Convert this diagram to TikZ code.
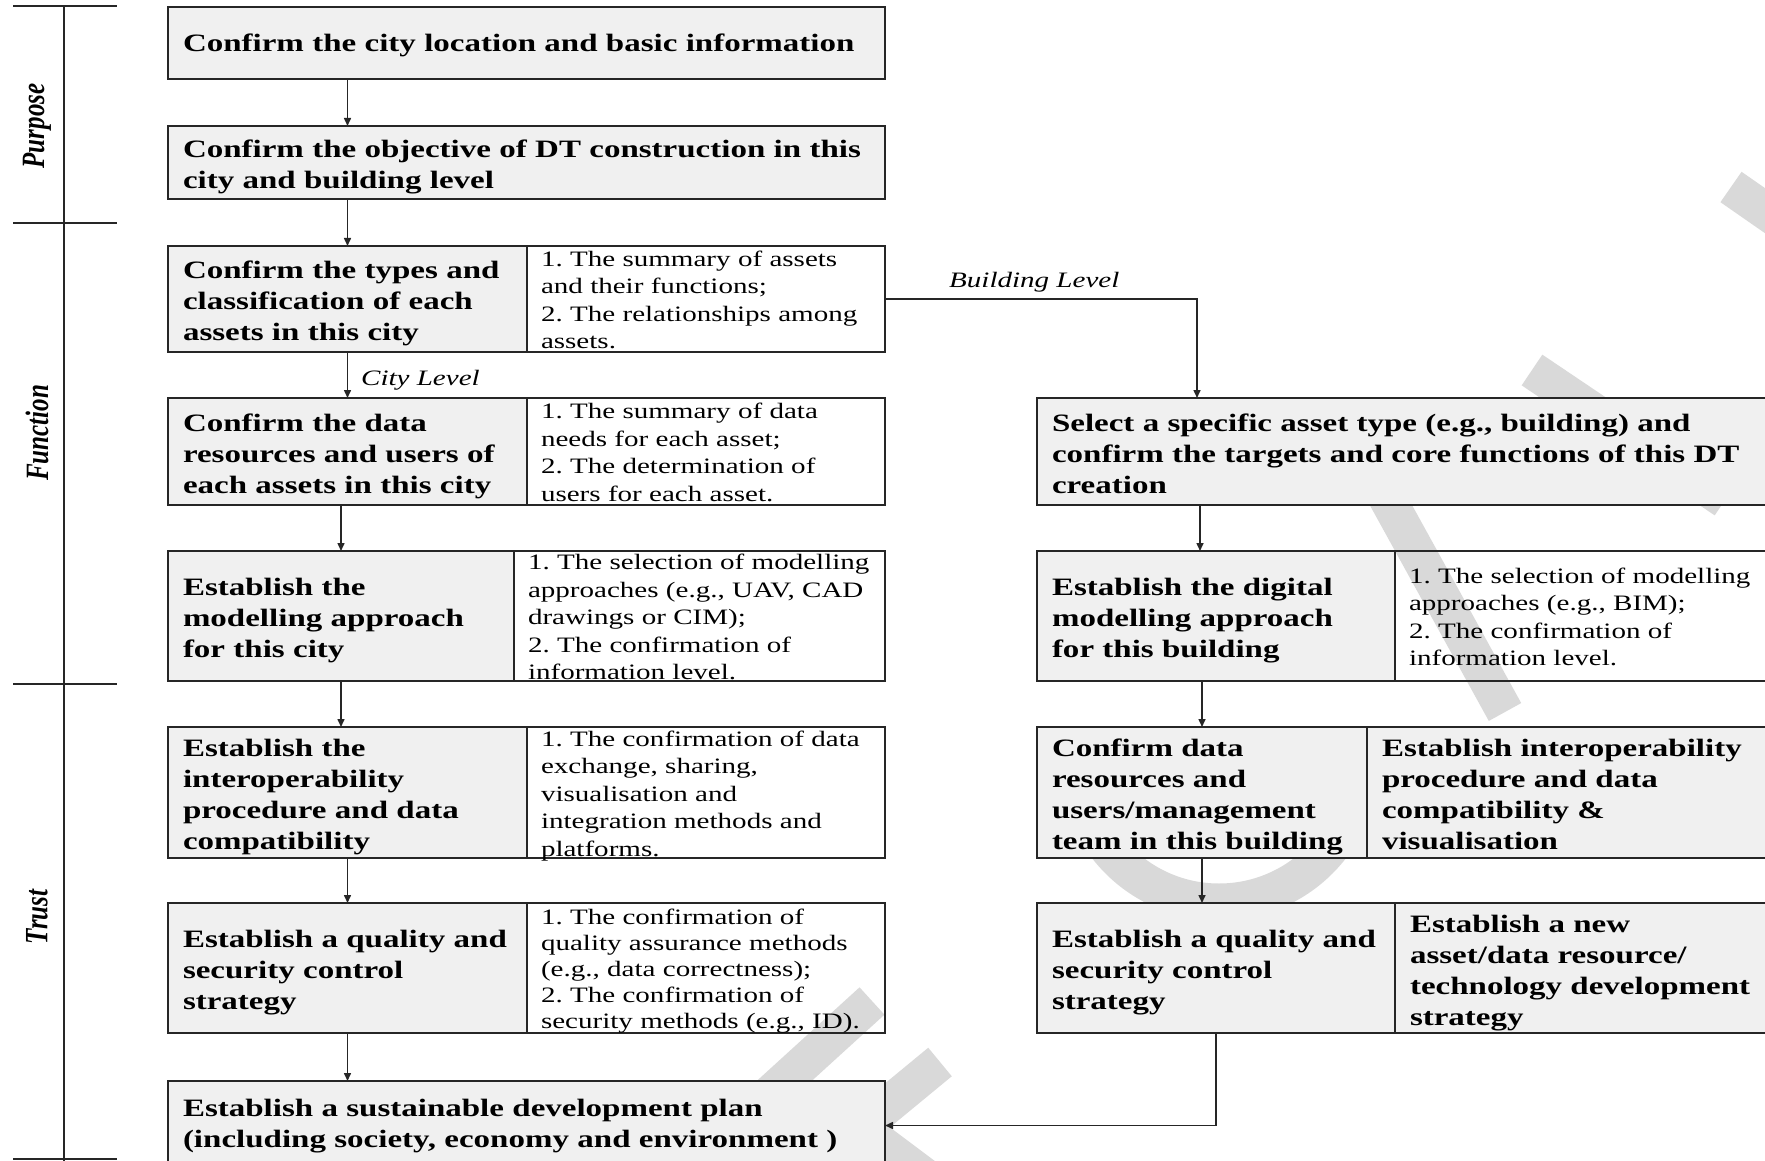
\documentclass[tikz,border=0pt]{standalone}
\usepackage{fontspec}
\usepackage{graphicx}
\setmainfont{Liberation Serif}[FakeStretch=1.32]
\newfontfamily\axisfont{Liberation Serif}
\usetikzlibrary{arrows.meta}

\newcommand\stagefont{\fontsize{25}{31}\selectfont\bfseries\frenchspacing}
\newcommand\notefont{\fontsize{22}{27.5}\selectfont\frenchspacing}
\newcommand\tightnotefont{\fontsize{22}{26}\selectfont\frenchspacing}
\newcommand\tagfont{\fontsize{22}{26}\selectfont\itshape}
% stacked lines; the optional argument adds room above the first line
\newcommand\boxlines[2][0pt]{\begin{tabular}{@{}l@{}}\rule{0pt}{\dimexpr\ht\strutbox+#1\relax}#2\end{tabular}}
\newcommand\stagelines[1]{\boxlines[9pt]{#1}}
\newcommand\notelines[1]{\boxlines[6pt]{#1}}
\newcommand\phasetext[1]{\scalebox{1}[1.3]{\axisfont\fontsize{25}{30}\selectfont\bfseries\itshape #1}}

\begin{document}
\begin{tikzpicture}[x=1pt,y=-1pt,
  stage/.style={draw=black!85, line width=2.4pt, fill=black!6, anchor=north west,
    outer sep=0pt, inner xsep=15pt, inner ysep=-10pt, align=left, font=\stagefont},
  note/.style={draw=black!85, line width=2.4pt, anchor=north west,
    outer sep=0pt, inner xsep=14pt, inner ysep=-12pt, align=left, font=\notefont},
  flow/.style={draw=black!85, line width=1.5pt, -{Triangle[length=8pt,width=7pt]}},
  wmark/.style={draw=black!15, line width=37pt},
  axis/.style={draw=black!85, line width=2pt},
  phase/.style={rotate=90, inner sep=0pt},
  tag/.style={inner sep=0pt, anchor=west, font=\tagfont}]

\useasboundingbox (0,0) rectangle (1765,1161);
\clip (0,0) rectangle (1765,1161);
\fill[white] (0,0) rectangle (1765,1161);

% background watermark strokes
\draw[wmark] (1731,187) -- (1800,235);
\draw[wmark] (1532,370) -- (1725,500);
\draw[wmark] (1355,440) -- (1505,712);
\begin{scope}
  \clip (1000,760) rectangle (1450,1000);
  \draw[wmark] (1219,760) circle (142);
\end{scope}
\draw[wmark] (872,1001) -- (760,1103);
\draw[wmark, line join=miter] (940,1062) -- (860,1128) -- (980,1218);

% phase axis
\draw[axis] (64,6) -- (64,1165);
\draw[axis] (13,6) -- (117,6);
\draw[axis] (13,223) -- (117,223);
\draw[axis] (13,684) -- (117,684);
\draw[axis] (13,1159) -- (117,1159);
\node[phase] (purpose) at (37,126) {\phasetext{Purpose}};
\node[phase] (function) at (37,433) {\phasetext{Function}};
\node[phase] (trust) at (37,917) {\phasetext{Trust}};

% city-level column
\node[stage, minimum width=717pt, text width=687pt, minimum height=72pt] (b1) at (168,7)
  {\boxlines[5pt]{Confirm the city location and basic information}};
\node[stage, minimum width=717pt, text width=687pt, minimum height=73pt] (b2) at (168,126)
  {\stagelines{Confirm the objective of DT construction in this\\city and building level}};

\node[stage, minimum width=359pt, text width=329pt, minimum height=106pt] (r3l) at (168,246)
  {\stagelines{Confirm the types and\\classification of each\\assets in this city}};
\node[note, minimum width=358pt, text width=330pt, minimum height=106pt] (r3r) at (527,246)
  {\notelines{1. The summary of assets\\and their functions;\\2. The relationships among\\assets.}};

\node[stage, minimum width=359pt, text width=329pt, minimum height=107pt] (r4l) at (168,398)
  {\stagelines{Confirm the data\\resources and users of\\each assets in this city}};
\node[note, minimum width=358pt, text width=330pt, minimum height=107pt] (r4r) at (527,398)
  {\notelines{1. The summary of data\\needs for each asset;\\2. The determination of\\users for each asset.}};

\node[stage, minimum width=346pt, text width=316pt, minimum height=130pt] (r5l) at (168,551)
  {\stagelines{Establish the\\modelling approach\\for this city}};
\node[note, minimum width=371pt, text width=343pt, minimum height=130pt] (r5r) at (514,551)
  {\notelines{1. The selection of modelling\\approaches (e.g., UAV, CAD\\drawings or CIM);\\2. The confirmation of\\information level.}};

\node[stage, minimum width=359pt, text width=329pt, minimum height=131pt] (r6l) at (168,727)
  {\stagelines{Establish the\\interoperability\\procedure and data\\compatibility}};
\node[note, minimum width=358pt, text width=330pt, minimum height=131pt] (r6r) at (527,727)
  {\notelines{1. The confirmation of data\\exchange, sharing,\\visualisation and\\integration methods and\\platforms.}};

\node[stage, minimum width=359pt, text width=329pt, minimum height=130pt] (r7l) at (168,903)
  {\stagelines{Establish a quality and\\security control\\strategy}};
\node[note, font=\tightnotefont, minimum width=358pt, text width=330pt, minimum height=130pt] (r7r) at (527,903)
  {\notelines{1. The confirmation of\\quality assurance methods\\(e.g., data correctness);\\2. The confirmation of\\security methods (e.g., ID).}};

\node[stage, minimum width=717pt, text width=687pt, minimum height=89pt] (b8) at (168,1081)
  {\boxlines{Establish a sustainable development plan\\(including society, economy and environment )}};

% building-level column
\node[stage, minimum width=763pt, text width=733pt, minimum height=107pt] (rb1) at (1037,398)
  {\stagelines{Select a specific asset type (e.g., building) and\\confirm the targets and core functions of this DT\\creation}};

\node[stage, minimum width=358pt, text width=328pt, minimum height=130pt] (rb2l) at (1037,551)
  {\stagelines{Establish the digital\\modelling approach\\for this building}};
\node[note, minimum width=405pt, text width=377pt, minimum height=130pt] (rb2r) at (1395,551)
  {\notelines{1. The selection of modelling\\approaches (e.g., BIM);\\2. The confirmation of\\information level.}};

\node[stage, minimum width=330pt, text width=300pt, minimum height=131pt] (rb3l) at (1037,727)
  {\stagelines{Confirm data\\resources and\\users/management\\team in this building}};
\node[stage, minimum width=433pt, text width=403pt, minimum height=131pt] (rb3r) at (1367,727)
  {\stagelines{Establish interoperability\\procedure and data\\compatibility \&\\visualisation}};

\node[stage, minimum width=358pt, text width=328pt, minimum height=130pt] (rb4l) at (1037,903)
  {\stagelines{Establish a quality and\\security control\\strategy}};
\node[stage, minimum width=405pt, text width=375pt, minimum height=130pt] (rb4r) at (1395,903)
  {\boxlines[10pt]{Establish a new\\asset/data resource/\\technology development\\strategy}};

% branch labels
\node[tag] (citylevel) at (361,380) {City Level};
\node[tag] (buildinglevel) at (949,282) {Building Level};

% connectors
\draw[flow] (b1.south -| r3l) -- (b2.north -| r3l);
\draw[flow] (b2.south -| r3l) -- (r3l.north);
\draw[flow] (r3l.south) -- (r4l.north);
\draw[flow] (r4l.south -| r5l) -- (r5l.north);
\draw[flow] (r5l.south) -- (r6l.north -| r5l);
\draw[flow] (r6l.south) -- (r7l.north);
\draw[flow] (r7l.south) -- (b8.north -| r7l);
\draw[flow] (r3r.east) -| ([xshift=-5pt]rb1.north -| rb3l);
\draw[flow] ([xshift=-2pt]rb1.south -| rb3l) -- ([xshift=-2pt]rb2l.north -| rb3l);
\draw[flow] (rb2l.south -| rb3l) -- (rb3l.north);
\draw[flow] (rb3l.south) -- (rb4l.north -| rb3l);
\draw[flow] (rb4l.south) |- (b8.east);
\end{tikzpicture}
\end{document}
